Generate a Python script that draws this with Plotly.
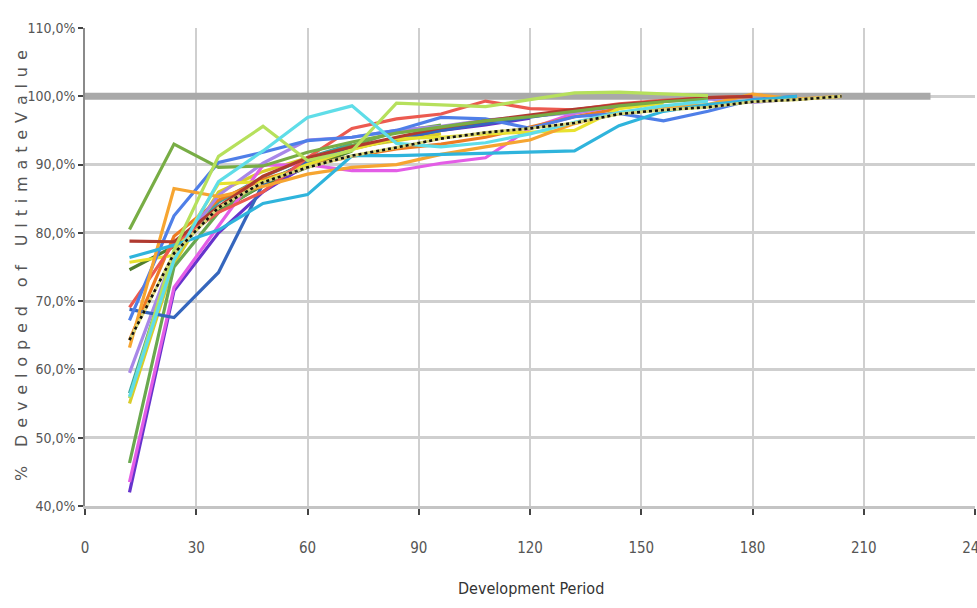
import plotly.graph_objects as go

periods = [12, 24, 36, 48, 60, 72, 84, 96, 108, 120, 132, 144, 156, 168, 180, 192, 204]

olive = [80.5, 93.0, 89.6, 89.8, 91.8, 93.3, 94.6, 95.5, 96.4, 97.0, 97.8, 98.6, 99.2, 99.6]
dark_red = [78.8, 78.7, 83.8, 88.3, 91.0, 92.6, 94.0, 95.4, 96.4, 97.3, 98.1, 98.8, 99.3, 99.8, 100.0]
light_green = [55.8, 77.5, 91.2, 95.6, 90.6, 92.0, 99.0, 98.8, 98.5, 99.5, 100.5, 100.6, 100.3, 100.1]
orange = [63.2, 86.5, 85.3, 86.8, 88.6, 89.6, 90.0, 91.5, 92.6, 93.6, 96.0, 97.6, 98.4, 98.8, 100.3, 99.6, 100.0]
dark_orange = [64.3, 79.5, 84.8, 87.8, 89.8, 91.2, 92.3, 93.0, 94.0, 95.5, 97.0, 98.2]
dark_blue = [68.8, 67.6, 74.2, 87.2, 90.4, 92.3, 93.8, 95.0, 96.0, 97.0, 97.9, 98.6, 99.2]
royal_blue = [67.2, 82.5, 90.3, 91.8, 93.5, 94.0, 95.0, 96.9, 96.7, 95.3, 97.0, 97.5, 96.4, 97.8, 99.5, 100.0]
purple = [42.0, 71.5, 80.0, 86.0, 90.0, 92.4, 93.8, 95.0, 95.8, 96.8]
magenta = [43.5, 72.0, 81.0, 89.9, 90.0, 89.1, 89.1, 90.2, 91.0, 95.3, 97.5, 98.6]
mid_green = [46.3, 75.0, 83.0, 87.2, 90.4, 92.8, 94.8, 95.8]
teal = [56.5, 77.2, 84.5, 88.2, 91.0, 93.0]
sky = [76.4, 78.2, 80.4, 84.3, 85.6, 91.3, 91.3, 91.5, 91.6, 91.8, 92.0, 95.7, 97.8, 98.8, 99.4, 100.0]
light_cyan = [56.0, 76.0, 87.5, 92.0, 96.9, 98.6, 93.1, 92.6, 93.2, 94.5, 96.2, 97.6, 98.6, 99.3]
yellow = [75.7, 76.7, 87.2, 87.5, 90.0, 92.2, 93.8, 94.0, 94.5, 94.8, 95.0, 98.2, 99.0]
yellow2 = [55.0, 75.5, 86.0, 89.0, 91.0, 92.5, 93.5, 94.5]
dark_green = [74.6, 78.0, 83.2, 87.0, 89.6, 92.0]
red = [69.1, 78.5, 83.0, 86.0, 91.0, 95.3, 96.7, 97.4, 99.3, 98.2, 98.0, 98.9, 99.4, 99.8, 100.0]
lavender = [59.5, 77.0, 85.5, 90.2, 93.6, 94.0, 95.0, 95.6, 96.5, 97.0, 97.6, 98.6, 99.3, 99.6, 99.1, 99.6]
average = [64.3, 77.0, 83.7, 87.4, 89.6, 91.3, 92.5, 93.8, 94.7, 95.3, 96.1, 97.4, 98.0, 98.4, 99.2, 99.5, 100.0]

ultimate_x = [0, 228]
ultimate_y = [100, 100]

x_ticks = [0, 30, 60, 90, 120, 150, 180, 210, 240]
y_ticks = [40, 50, 60, 70, 80, 90, 100, 110]
y_tick_text = ["40,0%", "50,0%", "60,0%", "70,0%", "80,0%", "90,0%", "100,0%", "110,0%"]

series = [
    (dark_green, "#4f7d2e"), (teal, "#3ea6a0"), (yellow2, "#d9cc2a"),
    (mid_green, "#6aa84f"), (purple, "#6633cc"), (magenta, "#e35de6"),
    (dark_orange, "#ee7b22"), (lavender, "#a887e8"), (dark_blue, "#3566bd"),
    (yellow, "#e8e22e"), (red, "#ec5a50"), (royal_blue, "#4f7fe8"),
    (orange, "#f6a531"), (dark_red, "#b03a30"), (olive, "#78ad45"),
    (sky, "#2fb4dc"), (light_green, "#b6e05c"), (light_cyan, "#5fdde8"),
]

fig = go.Figure()
fig.add_trace(go.Scatter(x=ultimate_x, y=ultimate_y, mode="lines",
                         line=dict(color="#a9a9a9", width=7), hoverinfo="skip"))
for vals, col in series:
    fig.add_trace(go.Scatter(x=periods[:len(vals)], y=vals, mode="lines",
                             line=dict(color=col, width=3.2)))
fig.add_trace(go.Scatter(x=periods[:len(average)], y=average, mode="lines",
                         line=dict(color="#d9d77a", width=3)))
fig.add_trace(go.Scatter(x=periods[:len(average)], y=average, mode="lines",
                         line=dict(color="#111111", width=2.6, dash="dot")))

sp = "\u2004\u200a"
ytitle = sp.join(list("% Developed of UltimateValue"))
cond = "DejaVu Sans Condensed, sans-serif"

fig.update_layout(
    width=977, height=608,
    margin=dict(l=85, r=2, t=28, b=102, autoexpand=False),
    paper_bgcolor="white", plot_bgcolor="white",
    showlegend=False,
    font=dict(family=cond, color="#555"),
    xaxis=dict(range=[0, 240], tickvals=x_ticks, showgrid=True, gridcolor="#cfcfcf", gridwidth=1.5,
               ticks="outside", ticklen=6, tickcolor="#444", tickwidth=1.5,
               ticklabelstandoff=20, ticklabeloverflow="allow", automargin=False,
               tickfont=dict(size=15, color="#555", family=cond),
               showline=True, linecolor="#c4c4c4", linewidth=3, zeroline=False),
    yaxis=dict(range=[40, 110], tickvals=y_ticks, ticktext=y_tick_text, showgrid=True,
               gridcolor="#cfcfcf", gridwidth=3, ticks="outside", ticklen=5, tickcolor="#444",
               tickwidth=1.5, tickfont=dict(size=14, color="#555", family=cond), automargin=False,
               showline=True, linecolor="#8a8a8a", linewidth=1.5, zeroline=False),
    annotations=[
        dict(text="Development Period", xref="paper", yref="paper", x=(531 - 85) / 890,
             y=(506 - 588) / 478, xanchor="center", yanchor="middle", showarrow=False,
             font=dict(size=16, color="#333", family=cond)),
        dict(text=ytitle, xref="paper", yref="paper", x=(21 - 85) / 890, y=(506 - 266) / 478,
             xanchor="center", yanchor="middle", textangle=-90, showarrow=False,
             font=dict(size=16, color="#555", family="DejaVu Sans, sans-serif")),
    ],
)

fig.write_html("out.html")
